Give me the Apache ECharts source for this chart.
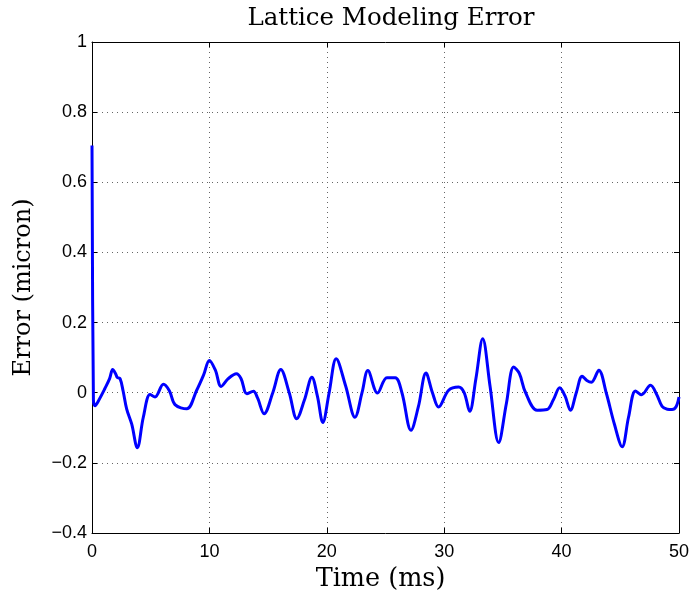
<!DOCTYPE html>
<html><head><meta charset="utf-8">
<script src="https://cdn.jsdelivr.net/npm/echarts@6/dist/echarts.min.js"></script>
<style>html,body{margin:0;padding:0;background:#fff}#c{width:692px;height:596px}</style>
</head><body><div id="c"></div>
<script>
const titleText = 'Lattice Modeling Error';
const xName = 'Time (ms)';
const yName = 'Error (micron)';
const timeMs = [0, 0.12, 0.26, 0.6, 1.1, 1.5, 1.76, 2.0, 2.16, 2.39, 2.65, 2.95, 3.38, 3.86, 4.37, 4.94, 5.37, 6.08, 6.6, 7.07, 8.07, 8.92, 9.5, 10.0, 10.5, 11.0, 11.6, 12.3, 12.7, 13.19, 13.75, 14.1, 14.66, 15.4, 16.08, 16.8, 17.44, 18.1, 18.73, 19.2, 19.66, 20.2, 20.8, 21.6, 22.4, 23.0, 23.5, 24.32, 25.12, 25.83, 26.4, 27.17, 27.8, 28.45, 29.0, 29.52, 30.38, 31.23, 31.7, 32.17, 32.7, 33.28, 33.9, 34.64, 35.3, 35.92, 36.4, 36.91, 37.91, 38.76, 39.3, 39.84, 40.3, 40.75, 41.25, 41.75, 42.15, 42.54, 43.17, 43.8, 44.5, 45.16, 45.7, 46.29, 46.8, 47.57, 48.1, 48.56, 49.0, 49.41, 49.75, 50];
const errorMicron = [0.705, -0.02, -0.037, -0.02, 0.012, 0.04, 0.066, 0.055, 0.043, 0.04, 0.005, -0.046, -0.089, -0.157, -0.07, -0.005, -0.012, 0.024, 0.005, -0.034, -0.046, 0.007, 0.05, 0.092, 0.065, 0.018, 0.04, 0.054, 0.04, -0.003, 0.004, -0.015, -0.06, 0.0, 0.066, 0.0, -0.074, -0.02, 0.044, -0.01, -0.085, 0.0, 0.097, 0.02, -0.07, 0.0, 0.063, -0.001, 0.043, 0.043, 0.0, -0.107, -0.04, 0.056, 0.0, -0.041, 0.007, 0.016, 0.0, -0.053, 0.04, 0.154, 0.02, -0.142, -0.03, 0.073, 0.055, 0.002, -0.05, -0.048, -0.02, 0.014, -0.01, -0.05, 0.0, 0.047, 0.035, 0.03, 0.064, 0.0, -0.09, -0.154, -0.07, 0.005, -0.006, 0.021, -0.005, -0.039, -0.047, -0.048, -0.04, -0.012];
const xTicks = [0, 10, 20, 30, 40, 50];
const yTicks = [-0.4, -0.2, 0, 0.2, 0.4, 0.6, 0.8, 1];

const chart = echarts.init(document.getElementById('c'), null, {renderer: 'canvas'});
const data = timeMs.map((t, i) => [t, errorMicron[i]]);
const sansFont = 'Liberation Sans';
const serifFont = 'DejaVu Serif';
const fmtY = v => {
  const r = Math.round(v * 10) / 10;
  if (r === 0) return '0';
  if (r === 1) return '1';
  return (r < 0 ? '\u2212' : '') + Math.abs(r).toFixed(1);
};
const gridStyle = {show: true, lineStyle: {color: '#666', type: [1, 4], width: 1}};
const tickStyle = {show: true, inside: true, length: 5, lineStyle: {color: '#000'}};
const lineStyle = {show: true, onZero: false, lineStyle: {color: '#000', width: 1}};
chart.setOption({
  animation: false,
  backgroundColor: '#fff',
  title: {text: titleText, left: 386, top: 1, textAlign: 'center',
    textStyle: {fontFamily: serifFont, fontSize: 24.5, fontWeight: 'normal', color: '#000'}},
  grid: {left: 92, right: 13, top: 42, bottom: 63, show: false, containLabel: false, outerBoundsMode: 'none'},
  xAxis: [{
    type: 'value', min: xTicks[0], max: xTicks[xTicks.length - 1], interval: 10,
    name: xName, nameLocation: 'middle', nameGap: 23,
    nameTextStyle: {fontFamily: serifFont, fontSize: 25.5, color: '#000', padding: [0, 10, 0, 0]},
    axisLine: lineStyle, axisTick: tickStyle,
    axisLabel: {fontFamily: sansFont, fontSize: 18, color: '#000', margin: 10},
    splitLine: gridStyle
  }, {
    type: 'value', position: 'top', min: xTicks[0], max: xTicks[xTicks.length - 1], interval: 10,
    axisLine: lineStyle, axisTick: tickStyle,
    axisLabel: {show: false}, splitLine: {show: false}
  }],
  yAxis: [{
    type: 'value', min: yTicks[0], max: yTicks[yTicks.length - 1], interval: 0.2,
    name: yName, nameLocation: 'middle', nameGap: 56, nameRotate: 90,
    nameTextStyle: {fontFamily: serifFont, fontSize: 24, color: '#000'},
    axisLine: lineStyle, axisTick: tickStyle,
    axisLabel: {fontFamily: sansFont, fontSize: 18, color: '#000', margin: 5, formatter: fmtY},
    splitLine: gridStyle
  }, {
    type: 'value', position: 'right', min: yTicks[0], max: yTicks[yTicks.length - 1], interval: 0.2,
    axisLine: lineStyle, axisTick: tickStyle,
    axisLabel: {show: false}, splitLine: {show: false}
  }],
  series: [{
    type: 'line', data: data, xAxisIndex: 0, yAxisIndex: 0,
    smooth: 0.35, showSymbol: false, clip: true,
    lineStyle: {color: '#0000ff', width: 3}
  }]
});
</script></body></html>
